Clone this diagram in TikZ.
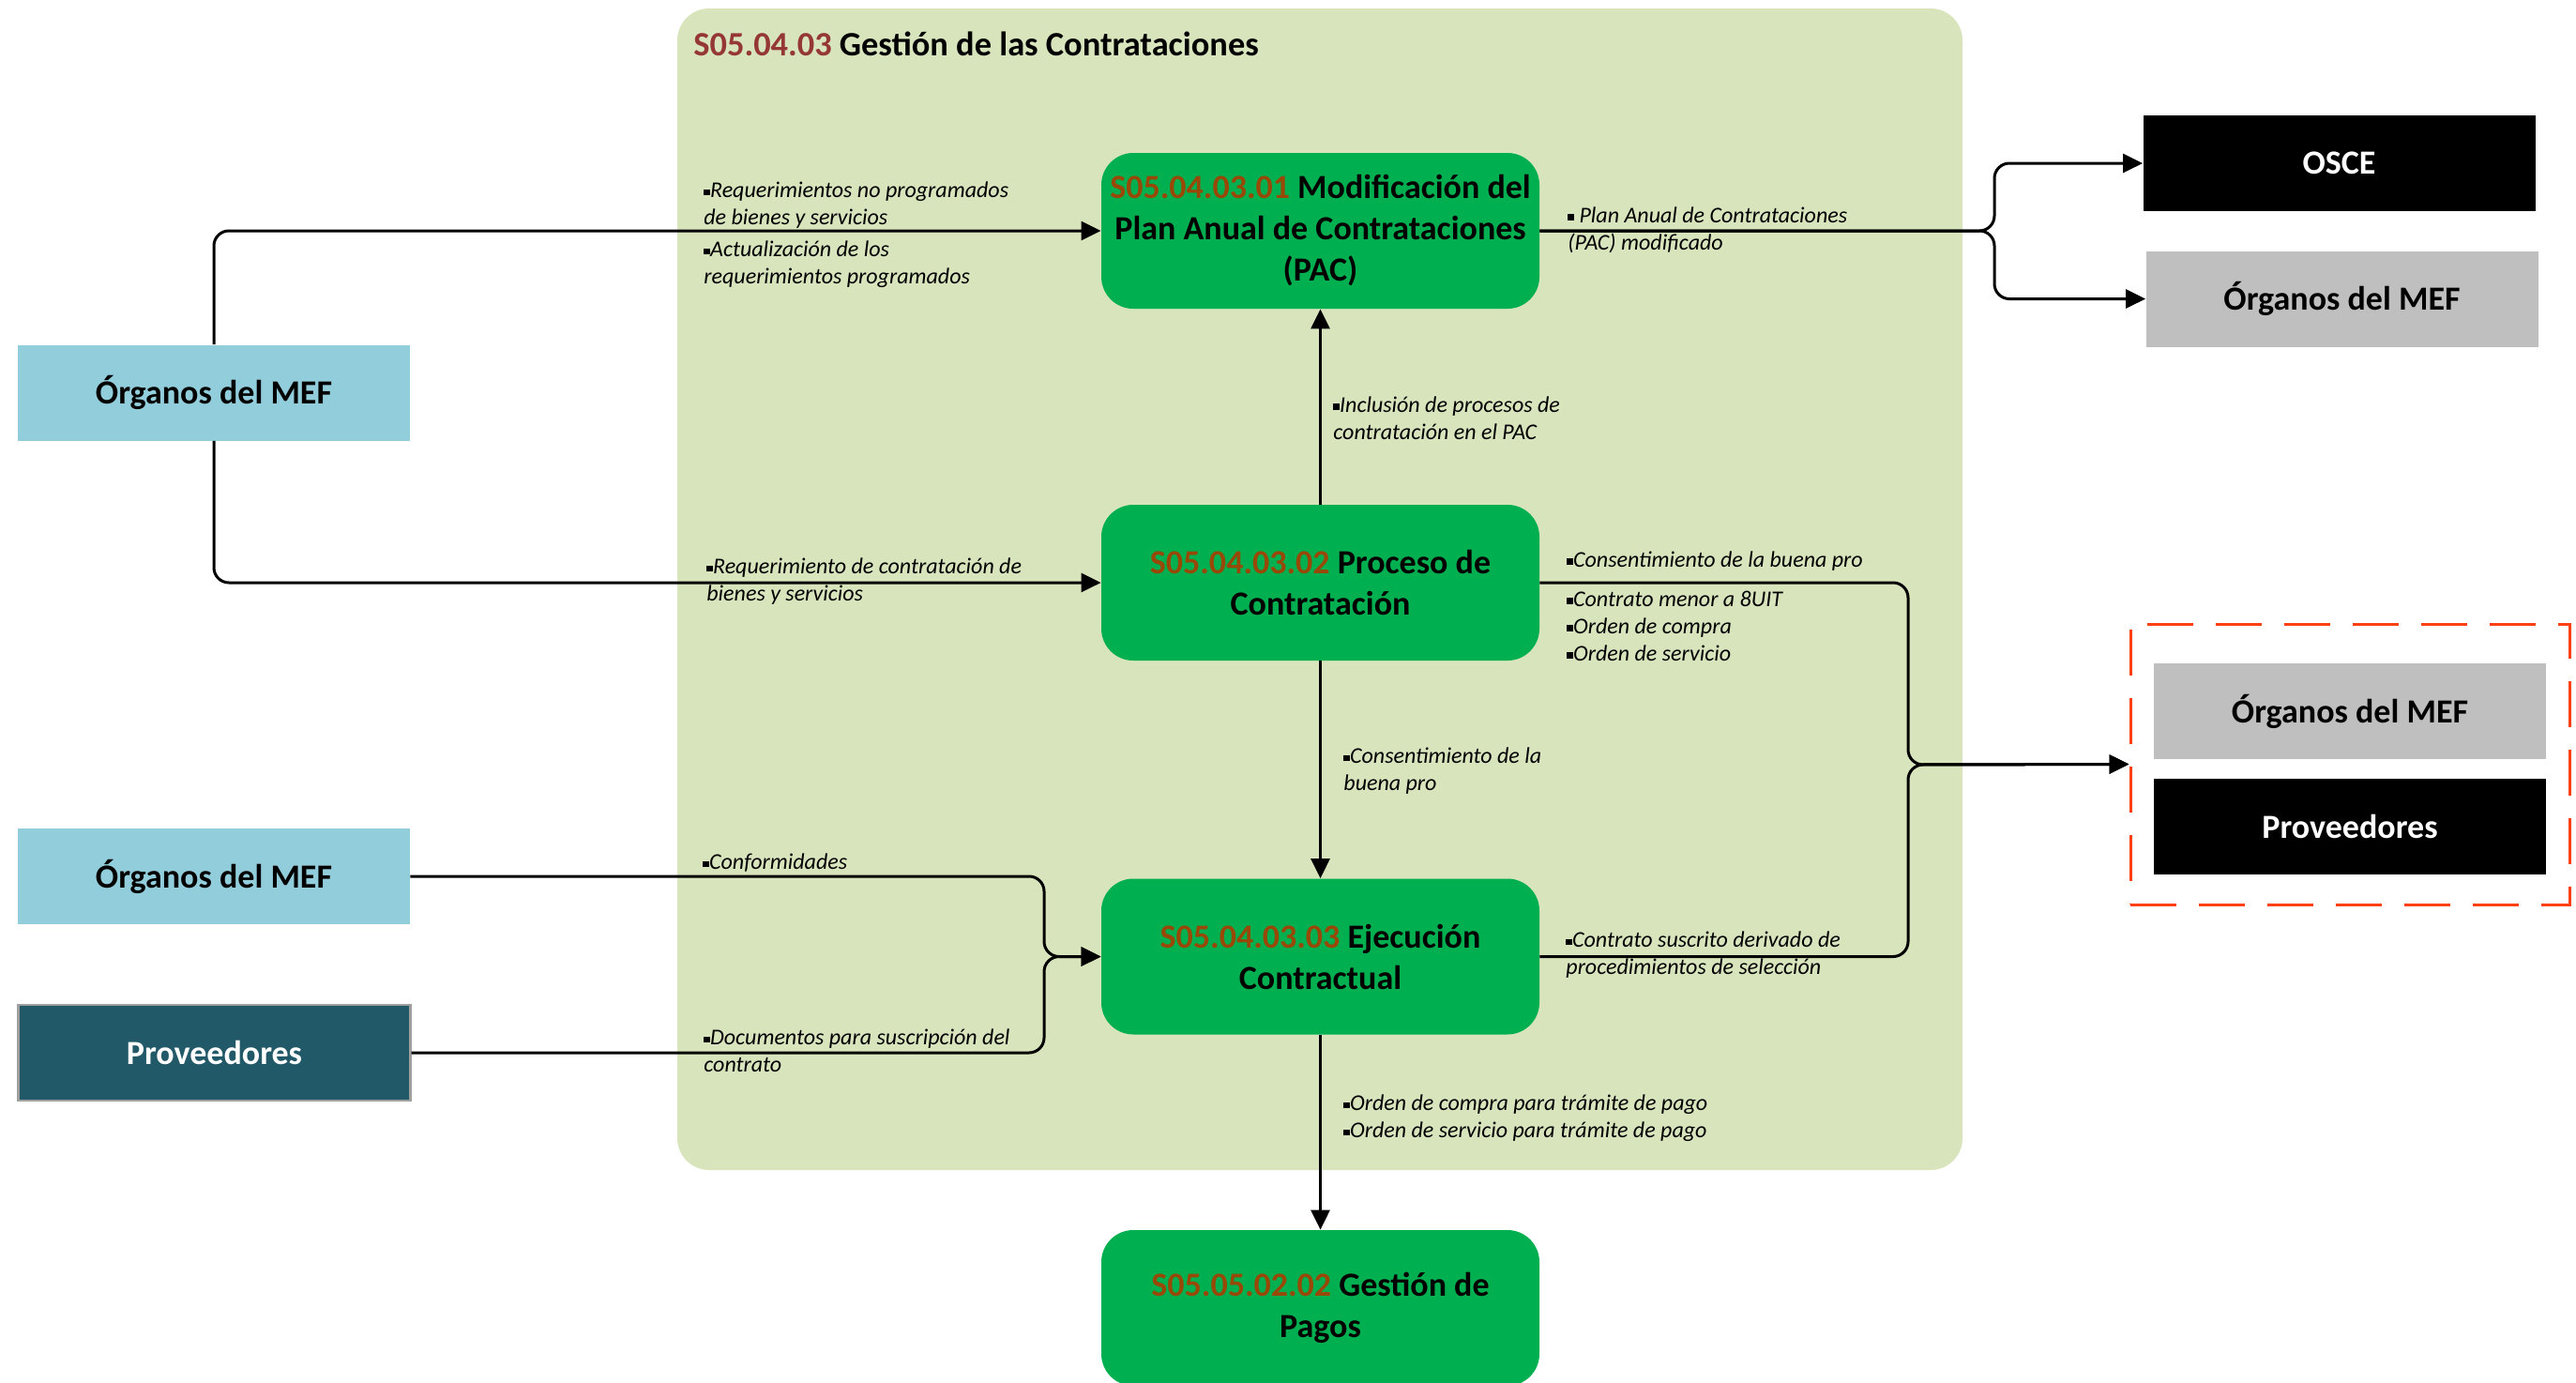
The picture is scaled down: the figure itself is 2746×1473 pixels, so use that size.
\documentclass[tikz,border=0pt]{standalone}
\usepackage{fontspec}
\setmainfont{Carlito}
\usetikzlibrary{arrows.meta}
\definecolor{contcol}{HTML}{D8E4BC}
\definecolor{pgreen}{HTML}{00B050}
\definecolor{lblue}{HTML}{92CDDC}
\definecolor{dteal}{HTML}{215968}
\definecolor{lgray}{HTML}{BFBFBF}
\definecolor{dred}{HTML}{FF4013}
\definecolor{codebr}{HTML}{984807}
\definecolor{coderd}{HTML}{953735}
\newcommand{\bul}{\raisebox{0.22ex}{\rule{0.28em}{0.28em}}}
\begin{document}
\begin{tikzpicture}[x=0.5pt,y=-0.5pt,
  procbox/.style={fill=pgreen, rounded corners=17pt, minimum width=233.5pt, minimum height=83pt, inner sep=2pt, align=center, font=\bfseries\fontsize{18}{22}\selectfont},
  extbox/.style={minimum width=209pt, minimum height=51pt, inner sep=0pt, font=\bfseries\fontsize{18}{22}\selectfont},
  conn/.style={line width=1.5pt, -{Triangle[length=10.5pt,width=10pt]}, rounded corners=8pt},
  lbl/.style={font=\itshape\fontsize{12}{14.5}\selectfont, align=left, inner sep=0pt, anchor=west}]
\useasboundingbox (0,0) rectangle (2746,1473);
\clip (0,0) rectangle (2746,1473);
\fill[white] (0,0) rectangle (2746,1473);

% container
\node[fill=contcol, rounded corners=17pt, minimum width=685pt, minimum height=619pt, inner sep=0pt] (grp) at (1407,628) {};
\node[anchor=west, inner sep=0pt, font=\bfseries\fontsize{18.2}{22}\selectfont] (title) at (739,47) {{\color{coderd}S05.04.03} Gestión de las Contrataciones};

% process boxes
\node[procbox] (pac) at (1407.5,246) {{\color{codebr}S05.04.03.01} Modificación del\\Plan Anual de Contrataciones\\(PAC)};
\node[procbox] (proc) at (1407.5,621) {{\color{codebr}S05.04.03.02} Proceso de\\Contratación};
\node[procbox] (ejec) at (1407.5,1019.5) {{\color{codebr}S05.04.03.03} Ejecución\\Contractual};
\node[procbox] (pagos) at (1407.5,1394) {{\color{codebr}S05.05.02.02} Gestión de\\Pagos};

% external boxes left
\node[extbox, fill=lblue] (org1) at (228,418.5) {Órganos del MEF};
\node[extbox, fill=lblue] (org2) at (228,934) {Órganos del MEF};
\node[extbox, fill=dteal, draw=gray!75, line width=1.2pt, text=white] (prov) at (228.5,1122) {Proveedores};

% external boxes right
\node[extbox, fill=black, text=white] (osce) at (2493.5,174) {OSCE};
\node[extbox, fill=lgray] (orgr) at (2496.5,318.5) {Órganos del MEF};
\node[draw=dred, dash pattern=on 24.5pt off 12pt, line width=1.5pt, minimum width=234pt, minimum height=149.5pt, inner sep=0pt] (dbox) at (2505,814.5) {};
\node[extbox, fill=lgray] (orgd) at (2505,758) {Órganos del MEF};
\node[extbox, fill=black, text=white] (provd) at (2505,880.5) {Proveedores};

% junction coordinates
\coordinate (j1) at (2126,246);
\coordinate (j2) at (2034,815);
\coordinate (j3) at (1113,1019.5);

% connectors
\draw[conn] (org1.north) -- (org1.north |- pac.west) -- (pac.west);
\draw[conn] (org1.south) -- (org1.south |- proc.west) -- (proc.west);
\draw[conn] (pac.east) -- (j1) -- (j1 |- osce.west) -- (osce.west);
\draw[conn] (pac.east) -- (j1) -- (j1 |- orgr.west) -- (orgr.west);
\draw[conn] (proc.north) -- (pac.south);
\draw[conn] (proc.south) -- (ejec.north);
\draw[conn] (ejec.south) -- (pagos.north);
\draw[conn] (proc.east) -- (proc.east -| j2) -- (j2) -- (dbox.west);
\draw[conn] (ejec.east) -- (ejec.east -| j2) -- (j2) -- (dbox.west);
\draw[conn] (org2.east) -- (org2.east -| j3) -- (j3) -- (ejec.west);
\draw[conn] (prov.east) -- (prov.east -| j3) -- (j3) -- (ejec.west);

% labels
\node[lbl] (l1) at (750,219) {\bul Requerimientos no programados\\de bienes y servicios};
\node[lbl] (l2) at (750,282) {\bul Actualización de los\\requerimientos programados};
\node[lbl] (l3) at (753,620) {\bul Requerimiento de contratación de\\bienes y servicios};
\node[lbl] (l4) at (749,920) {\bul Conformidades};
\node[lbl] (l5) at (750,1120) {\bul Documentos para suscripción del\\contrato};
\node[lbl] (l6) at (1671,245) {\bul{} Plan Anual de Contrataciones\\(PAC) modificado};
\node[lbl] (l7) at (1421,446) {\bul Inclusión de procesos de\\contratación en el PAC};
\node[lbl] (l8) at (1670,598) {\bul Consentimiento de la buena pro};
\node[lbl] (l9) at (1670,667) {\bul Contrato menor a 8UIT\\\bul Orden de compra\\\bul Orden de servicio};
\node[lbl] (l10) at (1432,822) {\bul Consentimiento de la\\buena pro};
\node[lbl] (l11) at (1669,1018) {\bul Contrato suscrito derivado de\\procedimientos de selección};
\node[lbl] (l12) at (1432,1192) {\bul Orden de compra para trámite de pago\\\bul Orden de servicio para trámite de pago};
\end{tikzpicture}
\end{document}
